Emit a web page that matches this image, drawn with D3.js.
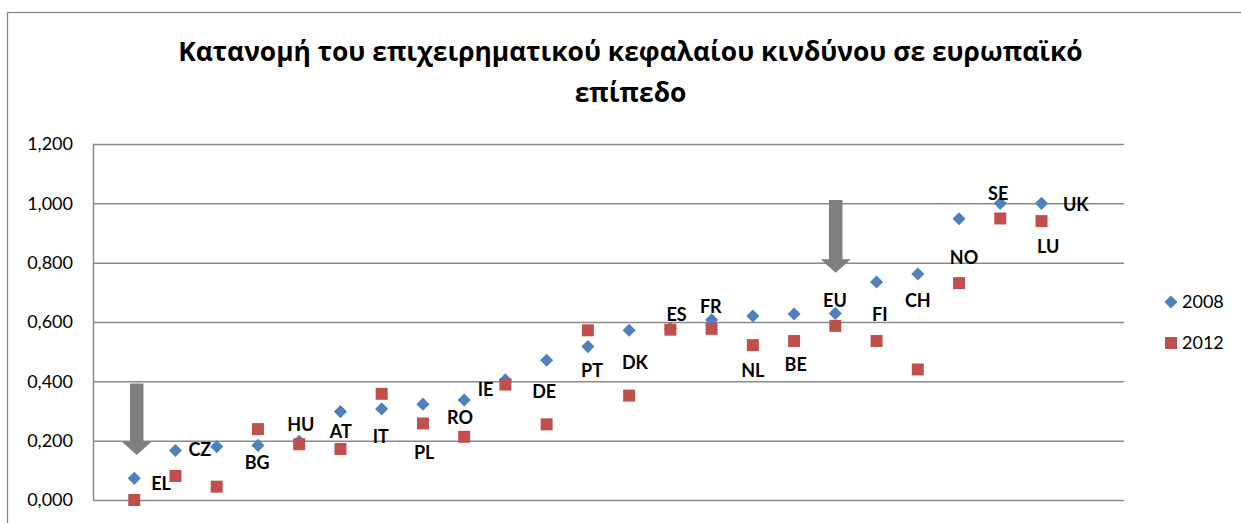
<!DOCTYPE html>
<html>
<head>
<meta charset="utf-8">
<script src="https://cdn.jsdelivr.net/npm/d3@7"></script>
<style>
  html, body { margin: 0; padding: 0; background: #fff; }
  svg { display: block; }
</style>
</head>
<body>
<div id="chart"></div>
<script>
// Κατανομή επιχειρηματικού κεφαλαίου κινδύνου – scatter 2008 vs 2012

const TITLE_LINES = ["Κατανομή του επιχειρηματικού κεφαλαίου κινδύνου σε ευρωπαϊκό", "επίπεδο"];
const SERIES = ["2008", "2012"];
const COLORS = ["#4F81BD", "#C0504D"];

// x position of each point (category slot on a 0..25 axis)
const POS = [1, 2, 3, 4, 5, 6, 7, 8, 9, 10, 11, 12, 13, 14, 15, 16, 17, 18, 19, 20, 21, 22, 23];
const V2008 = [0.073, 0.167, 0.180, 0.184, 0.198, 0.298, 0.307, 0.323, 0.337, 0.405, 0.471, 0.517,
               0.572, 0.578, 0.607, 0.620, 0.627, 0.629, 0.735, 0.762, 0.948, 1.000, 1.000];
const V2012 = [0.000, 0.081, 0.045, 0.239, 0.188, 0.172, 0.358, 0.258, 0.213, 0.389, 0.255, 0.572,
               0.352, 0.574, 0.577, 0.522, 0.536, 0.587, 0.536, 0.440, 0.731, 0.949, 0.940];

// country labels, placed (as in the original) at hand-moved spots given in data units
const COUNTRIES = ["EL", "CZ", "BG", "HU", "AT", "IT", "PL", "RO", "IE", "DE", "PT", "DK",
                   "ES", "FR", "NL", "BE", "EU", "FI", "CH", "NO", "SE", "LU", "UK"];
const LABEL_X = [1.65, 2.59, 3.98, 5.04, 6.01, 6.98, 8.03, 8.90, 9.52, 10.94, 12.10, 13.14,
                 14.15, 14.98, 16.00, 17.04, 17.99, 19.08, 20.00, 21.12, 21.95, 23.16, 23.83];
const LABEL_Y = [0.054, 0.169, 0.128, 0.253, 0.230, 0.213, 0.159, 0.279, 0.373, 0.367, 0.435, 0.463,
                 0.626, 0.652, 0.435, 0.457, 0.674, 0.624, 0.674, 0.818, 1.034, 0.854, 0.997];

const Y_TICKS = [0, 0.2, 0.4, 0.6, 0.8, 1.0, 1.2];

// the two grey "look here" arrows: [x, top value, tip value]
const ARROWS = [[1.06, 0.393, 0.152], [18.01, 1.011, 0.766]];

/* ── Layout ── */
const totalW = 1241, totalH = 523;
const margin = { top: 144, left: 93 };
const W = 1031, H = 356;

const svg = d3.select("#chart").append("svg")
  .attr("width", totalW).attr("height", totalH);

// chart area frame (runs off the right/bottom of the picture)
svg.append("rect")
  .attr("x", 7.5).attr("y", 12.5).attr("width", 1260).attr("height", 540)
  .attr("fill", "#fff").attr("stroke", "#868686").attr("stroke-width", 1.25);

/* ── Title ── */
const title = svg.append("text")
  .attr("text-anchor", "middle")
  .attr("font-family", "'Open Sans', 'Noto Sans', sans-serif")
  .attr("font-weight", "bold").attr("font-size", 24).attr("fill", "#000");
title.append("tspan").attr("x", 630.5).attr("y", 61).text(TITLE_LINES[0]);
title.append("tspan").attr("x", 630.5).attr("y", 102).text(TITLE_LINES[1]);
// fit line 1 to the width it has in the original
const w0 = title.select("tspan").node().getComputedTextLength();
title.attr("font-size", 24 * 905 / w0);

const g = svg.append("g").attr("transform", `translate(${margin.left},${margin.top})`);

/* ── Scales ── */
const x = d3.scaleLinear().domain([0, 25]).range([0, W]);
const y = d3.scaleLinear().domain([0, 1.2]).range([H, 0]);

const fmt = d3.formatLocale({ decimal: ",", thousands: ".", grouping: [3], currency: ["", "€"] }).format(".3f");

/* ── Grid + axis ── */
g.append("g")
  .call(d3.axisLeft(y).tickValues(Y_TICKS).tickSize(-W).tickFormat(""))
  .call(ax => {
    ax.select(".domain").remove();
    ax.selectAll("line").attr("stroke", "#8a8a8a").attr("stroke-width", 1.5);
  });

g.append("g")
  .call(d3.axisLeft(y).tickValues(Y_TICKS).tickSize(0).tickPadding(20).tickFormat(fmt))
  .call(ax => ax.select(".domain").attr("stroke", "#8a8a8a").attr("stroke-width", 1.5))
  .selectAll("text")
  .attr("font-family", "Lato, 'Open Sans', sans-serif").attr("font-size", 18).attr("fill", "#000");

/* ── Arrows ── */
const shaftW = 13.5, headW = 30, headL = 13.5;
g.selectAll("path.arrow")
  .data(ARROWS)
  .join("path")
  .attr("class", "arrow")
  .attr("fill", "#7f7f7f")
  .attr("d", ([xv, top, tip]) => {
    const cx = x(xv), y0 = y(top), y1 = y(tip), yh = y1 - headL;
    return `M${cx - shaftW / 2},${y0}H${cx + shaftW / 2}V${yh}H${cx + headW / 2}L${cx},${y1}L${cx - headW / 2},${yh}H${cx - shaftW / 2}Z`;
  });

/* ── Markers (2012 drawn over 2008) ── */
const diamond = d3.symbol().type(d3.symbolSquare).size(86);
const square = d3.symbol().type(d3.symbolSquare).size(144);

g.selectAll("path.s2008")
  .data(POS.map((p, i) => [p, V2008[i]]))
  .join("path")
  .attr("class", "s2008")
  .attr("d", diamond)
  .attr("transform", d => `translate(${x(d[0])},${y(d[1])}) rotate(45)`)
  .attr("fill", COLORS[0]);

g.selectAll("path.s2012")
  .data(POS.map((p, i) => [p, V2012[i]]))
  .join("path")
  .attr("class", "s2012")
  .attr("d", square)
  .attr("transform", d => `translate(${x(d[0])},${y(d[1])})`)
  .attr("fill", COLORS[1]);

/* ── Country labels ── */
g.selectAll("text.lbl")
  .data(COUNTRIES)
  .join("text")
  .attr("class", "lbl")
  .attr("x", (d, i) => x(LABEL_X[i]))
  .attr("y", (d, i) => y(LABEL_Y[i]))
  .attr("dy", "0.36em")
  .attr("text-anchor", "middle")
  .attr("font-family", "Lato, 'Open Sans', sans-serif")
  .attr("font-weight", "bold").attr("font-size", 18).attr("fill", "#000")
  .text(d => d);

/* ── Legend ── */
const legend = svg.append("g").attr("transform", "translate(1171,302)");
SERIES.forEach((s, i) => {
  const row = legend.append("g").attr("transform", `translate(0,${i * 41})`);
  row.append("path")
    .attr("d", i === 0 ? diamond : square)
    .attr("transform", i === 0 ? "rotate(45)" : null)
    .attr("fill", COLORS[i]);
  row.append("text").attr("x", 11).attr("dy", "0.36em")
    .attr("font-family", "Lato, 'Open Sans', sans-serif").attr("font-size", 18).attr("fill", "#000")
    .text(s);
});
</script>
</body>
</html>
